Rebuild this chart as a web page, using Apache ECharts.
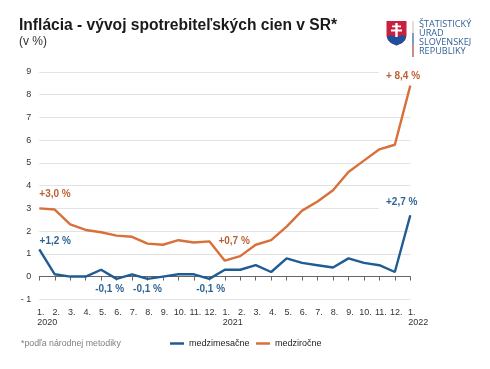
<!DOCTYPE html>
<html>
<head>
<meta charset="utf-8">
<style>
  html, body { margin: 0; padding: 0; background: #fff; }
  #chart { width: 490px; height: 369px; }
</style>
<script src="https://cdn.jsdelivr.net/npm/echarts@6/dist/echarts.min.js"></script>
</head>
<body>
<div id="chart"></div>
<script>
const months = ['1.', '2.', '3.', '4.', '5.', '6.', '7.', '8.', '9.', '10.', '11.', '12.',
  '1.', '2.', '3.', '4.', '5.', '6.', '7.', '8.', '9.', '10.', '11.', '12.', '1.']
const years = ['2020', '', '', '', '', '', '', '', '', '', '', '',
  '2021', '', '', '', '', '', '', '', '', '', '', '', '2022']
const medzimesacne = [1.2, 0.1, 0, 0, 0.3, -0.1, 0.1, -0.1, 0, 0.1, 0.1, -0.1,
  0.3, 0.3, 0.5, 0.2, 0.8, 0.6, 0.5, 0.4, 0.8, 0.6, 0.5, 0.2, 2.7]
const medzirocne = [3.0, 2.95, 2.3, 2.05, 1.95, 1.8, 1.75, 1.45, 1.4, 1.6, 1.5, 1.55,
  0.7, 0.9, 1.4, 1.6, 2.2, 2.9, 3.3, 3.8, 4.6, 5.1, 5.6, 5.8, 8.4]

const BLUE = '#1f5c94'
const ORANGE = '#d8703a'
const BLUE_TEXT = '#2f6496'
const ORANGE_TEXT = '#bd5f33'
const FONT = '"Liberation Sans", Arial, sans-serif'

// popisky hodnot: index bodu, text, posun od bodu
const blueLabels = [
  { i: 0, text: '+1,2 %', dx: 16, dy: -8 },
  { i: 5, text: '-0,1 %', dx: -7, dy: 10.7 },
  { i: 7, text: '-0,1 %', dx: 0, dy: 10.7 },
  { i: 11, text: '-0,1 %', dx: 1.3, dy: 10.7 },
  { i: 24, text: '+2,7 %', dx: -8.6, dy: -13, box: true }
]
const orangeLabels = [
  { i: 0, text: '+3,0 %', dx: 15.7, dy: -14 },
  { i: 12, text: '+0,7 %', dx: 9.3, dy: -19 },
  { i: 24, text: '+ 8,4 %', dx: -7.3, dy: -9.5, box: true }
]

function markLabels(values, labels, color) {
  return {
    symbol: 'circle',
    symbolSize: 0,
    silent: true,
    data: labels.map(l => ({
      coord: [l.i, values[l.i]],
      label: {
        show: true,
        formatter: l.text,
        position: 'inside',
        offset: [l.dx, l.dy],
        color,
        fontFamily: FONT,
        fontSize: 10,
        fontWeight: 'bold',
        backgroundColor: l.box ? '#fff' : 'transparent',
        padding: l.box ? [2, 7] : 0
      }
    }))
  }
}

const chart = echarts.init(document.getElementById('chart'), null, { renderer: 'canvas' })

chart.setOption({
  animation: false,
  backgroundColor: '#fff',
  textStyle: { fontFamily: FONT },
  grid: { left: 39.3, right: 79.7, top: 72, bottom: 69.7 },
  title: [
    {
      text: 'Inflácia - vývoj spotrebiteľských cien v SR*',
      left: 19, top: 18, padding: 0,
      textStyle: { fontFamily: FONT, fontSize: 15.6, fontWeight: 'bold', color: '#1a1a1a' }
    },
    {
      text: '(v %)',
      left: 19, top: 36, padding: 0,
      textStyle: { fontFamily: FONT, fontSize: 12, fontWeight: 'normal', color: '#333' }
    },
    {
      text: '*podľa národnej metodiky',
      left: 21, top: 339, padding: 0,
      textStyle: { fontFamily: FONT, fontSize: 8.8, fontWeight: 'normal', color: '#7f7f7f' }
    }
  ],
  legend: {
    left: 170, top: 339, padding: 0,
    itemWidth: 14, itemHeight: 2.5,
    itemGap: 6.5,
    icon: 'rect',
    textStyle: { fontFamily: FONT, fontSize: 9, color: '#222' },
    data: ['medzimesačne', 'medziročne']
  },
  xAxis: [
    {
      type: 'category',
      data: months,
      boundaryGap: false,
      axisLine: { onZero: true, lineStyle: { color: '#666', width: 1 } },
      axisTick: { alignWithLabel: true, length: 4, lineStyle: { color: '#666' } },
      axisLabel: { interval: 0, margin: 9, padding: [0, 0, 0, 3], color: '#333', fontSize: 9, fontFamily: FONT },
      splitLine: { show: false }
    },
    {
      type: 'category',
      data: years,
      boundaryGap: false,
      position: 'bottom',
      axisLine: { show: false },
      axisTick: { show: false },
      axisLabel: { interval: 0, margin: 19, padding: [0, 0, 0, 16], color: '#333', fontSize: 9, fontFamily: FONT },
      splitLine: { show: false }
    }
  ],
  yAxis: {
    type: 'value',
    min: -1, max: 9, interval: 1,
    axisLine: { show: false },
    axisTick: { show: false },
    axisLabel: {
      margin: 8,
      color: '#333', fontSize: 9, fontFamily: FONT,
      formatter: v => (v < 0 ? '- ' + Math.abs(v) : String(v))
    },
    splitLine: { lineStyle: { color: '#e3e3e3', width: 1 } }
  },
  series: [
    {
      name: 'medzimesačne',
      type: 'line',
      data: medzimesacne,
      symbol: 'none',
      lineStyle: { color: BLUE, width: 2.4 },
      itemStyle: { color: BLUE },
      markPoint: markLabels(medzimesacne, blueLabels, BLUE_TEXT),
      z: 3
    },
    {
      name: 'medziročne',
      type: 'line',
      data: medzirocne,
      symbol: 'none',
      lineStyle: { color: ORANGE, width: 2.4 },
      itemStyle: { color: ORANGE },
      markPoint: markLabels(medzirocne, orangeLabels, ORANGE_TEXT),
      z: 2
    }
  ],
  // logo uradu
  graphic: [
    {
      type: 'polygon',
      shape: { points: [[386.5, 21], [406.5, 21], [406.5, 36], [405, 40], [402, 43], [396.5, 45.5], [391, 43], [388, 40], [386.5, 36]] },
      style: { fill: '#c8203f' }
    },
    {
      type: 'polygon',
      shape: { points: [[386.8, 37], [390, 35], [393, 36], [396.5, 37], [400, 36], [403, 35], [406.2, 37], [405, 40], [402, 43], [396.5, 45.5], [391, 43], [388, 40]] },
      style: { fill: '#1d4f9c' }
    },
    {
      type: 'polygon',
      shape: { points: [[395.3, 23], [397.7, 23], [397.7, 25.5], [401, 25.5], [401, 27.3], [397.7, 27.3], [397.7, 29.5], [402, 29.5], [402, 31.5], [397.7, 31.5], [397.7, 37], [395.3, 37], [395.3, 31.5], [391, 31.5], [391, 29.5], [395.3, 29.5], [395.3, 27.3], [392, 27.3], [392, 25.5], [395.3, 25.5]] },
      style: { fill: '#fff' }
    },
    { type: 'rect', shape: { x: 412, y: 21, width: 2, height: 12 }, style: { fill: '#e6dcdc' } },
    { type: 'rect', shape: { x: 412, y: 33, width: 2, height: 12 }, style: { fill: '#7f9cc4' } },
    { type: 'rect', shape: { x: 412, y: 45, width: 2, height: 12 }, style: { fill: '#d08b86' } },
    { type: 'text', x: 419, y: 20, style: { text: 'ŠTATISTICKÝ', fill: '#2f5f96', font: '9.1px "Open Sans"' } },
    { type: 'text', x: 419, y: 29, style: { text: 'ÚRAD', fill: '#2f5f96', font: '9.1px "Open Sans"' } },
    { type: 'text', x: 419, y: 38, style: { text: 'SLOVENSKEJ', fill: '#2f5f96', font: '9.1px "Open Sans"' } },
    { type: 'text', x: 419, y: 47, style: { text: 'REPUBLIKY', fill: '#2f5f96', font: '9.1px "Open Sans"' } }
  ]
})
</script>
</body>
</html>
